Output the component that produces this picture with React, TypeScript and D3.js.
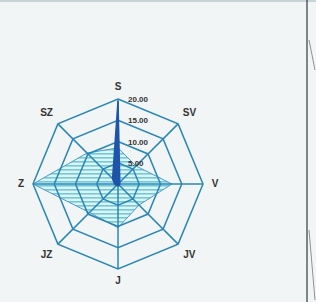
import React from "react";
import * as d3 from "d3";

const directions = ["S", "SV", "V", "JV", "J", "JZ", "Z", "SZ"];
const tickValues = [5, 10, 15, 20];
const tickLabels = ["5.00", "10.00", "15.00", "20.00"];
const hatchedSeries = [8.5, 6, 12.7, 7, 10.3, 9.5, 20, 10.3];
const spikeSeries = [19.5, 0.6, 0.4, 0.4, 0.4, 0.4, 0.8, 1.8];

const W = 316;
const H = 302;
const cx = 118;
const cy = 184;
const radius = 85;

export default function App() {
  const r = d3.scaleLinear().domain([0, 20]).range([0, radius]);
  const angle = d3
    .scaleLinear()
    .domain([0, directions.length])
    .range([0, 2 * Math.PI]);

  const radial = d3
    .lineRadial<number>()
    .angle((d, i) => angle(i))
    .radius((d) => r(d))
    .curve(d3.curveLinearClosed);

  const pt = (i: number, v: number) => [
    Math.sin(angle(i)) * r(v),
    -Math.cos(angle(i)) * r(v),
  ];

  const gridColor = "#2a86b4";

  return (
    <svg
      width={W}
      height={H}
      style={{ position: "fixed", left: 0, top: 0, background: "#f2f5f6" }}
      fontFamily="Arial, 'Liberation Sans', sans-serif"
    >
      <defs>
        <pattern id="hatch" width="6" height="4" patternUnits="userSpaceOnUse">
          <rect width="6" height="4" fill="#e0f3f7" />
          <rect y="1" width="6" height="1.6" fill="#6fcbdc" />
        </pattern>
      </defs>
      <rect x={0} y={0} width={W} height={2} fill="#c9d3d6" />
      <line x1={307} y1={0} x2={307} y2={H} stroke="#444" strokeWidth={1.3} />
      <line x1={309} y1={40} x2={315} y2={70} stroke="#777" strokeWidth={0.8} />
      <line x1={309} y1={230} x2={315} y2={300} stroke="#777" strokeWidth={0.8} />

      <g transform={`translate(${cx},${cy})`}>
        {/* hatched series behind the grid */}
        <path d={radial(hatchedSeries) || ""} fill="url(#hatch)" stroke="#4a9cc8" strokeWidth={1} />

        {tickValues.map((t) => (
          <path
            key={t}
            d={radial(directions.map(() => t)) || ""}
            fill="none"
            stroke={gridColor}
            strokeWidth={1.5}
          />
        ))}
        {directions.map((d, i) => {
          const [x, y] = pt(i, 20);
          return (
            <line key={d} x1={0} y1={0} x2={x} y2={y} stroke={gridColor} strokeWidth={1.5} />
          );
        })}

        <path d={radial(spikeSeries) || ""} fill="#1f55a8" stroke="#1f55a8" strokeWidth={1.5} />

        {tickValues.map((t, i) => (
          <text
            key={t}
            x={10}
            y={-r(t) + 3}
            fontSize={8}
            fontWeight="bold"
            fill="#333"
          >
            {tickLabels[i]}
          </text>
        ))}

        {directions.map((d, i) => {
          const [x, y] = pt(i, 20);
          const ux = x / radius;
          const uy = y / radius;
          const off = i % 2 === 0 ? 12 : 16;
          return (
            <text
              key={d}
              x={x + ux * off}
              y={y + uy * off + 3}
              textAnchor="middle"
              fontSize={10}
              fontWeight="bold"
              fill="#333"
            >
              {d}
            </text>
          );
        })}
      </g>
    </svg>
  );
}
